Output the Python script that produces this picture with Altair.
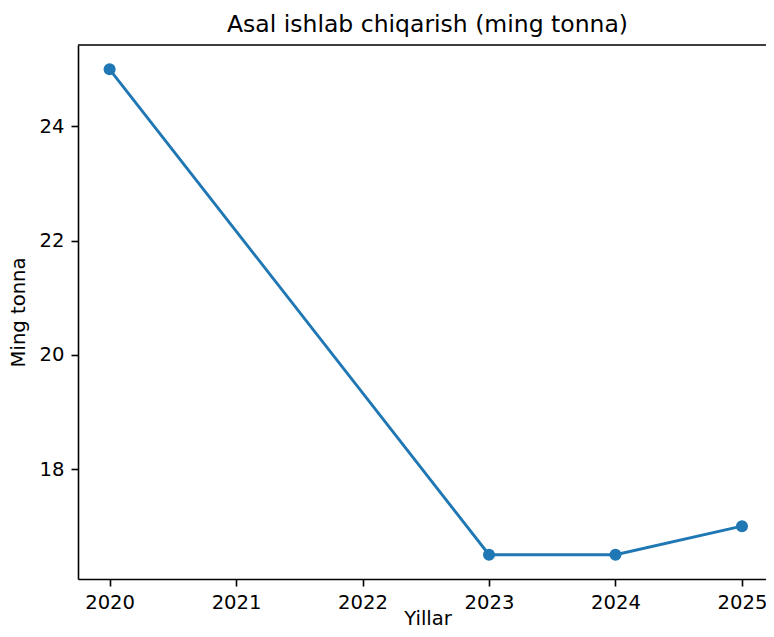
import altair as alt
import pandas as pd

years = [2020, 2023, 2024, 2025]
values = [25.0, 16.5, 16.5, 17.0]
x_ticks = [2020, 2021, 2022, 2023, 2024, 2025]
y_ticks = [18, 20, 22, 24]
title_text = "Asal ishlab chiqarish (ming tonna)"
x_label = "Yillar"
y_label = "Ming tonna"

df = pd.DataFrame({"year": years, "value": values})

FONT = "DejaVu Sans"
BLUE = "#1f77b4"
W, H = 688, 534
FS = 19.6
PAD_L, PAD_T, PAD_B = 70, 37, 50

x_scale = alt.Scale(domain=[2019.75, 2025.19], nice=False, zero=False)
y_scale = alt.Scale(domain=[16.075, 25.425], nice=False, zero=False)

x_axis = alt.Axis(
    values=x_ticks, format="d", title=x_label, grid=False,
    tickSize=7, tickWidth=1.6, tickColor="black",
    domainColor="black", domainWidth=1.6,
    labelFont=FONT, labelFontSize=FS, labelColor="black", labelPadding=7.5,
    labelFlush=False, labelOverlap=False,
    titleFont=FONT, titleFontSize=FS, titleFontWeight="normal", titleColor="black",
    titleX=349.5, titleY=45, titleAlign="center", titleBaseline="alphabetic",
)
y_axis = alt.Axis(
    values=y_ticks, format="d", title=y_label, grid=False,
    tickSize=7, tickWidth=1.6, tickColor="black",
    domainColor="black", domainWidth=1.6,
    labelFont=FONT, labelFontSize=FS, labelColor="black", labelPadding=7,
    labelFlush=False, labelOverlap=False,
    titleFont=FONT, titleFontSize=FS, titleFontWeight="normal", titleColor="black",
    titleX=-54, titleY=H / 2, titleAngle=270, titleAlign="center",
    titleBaseline="alphabetic",
)

chart = (
    alt.Chart(df)
    .mark_line(color=BLUE, strokeWidth=2.9,
               point=alt.OverlayMarkDef(filled=True, size=145, color=BLUE, opacity=1, shape="circle"))
    .encode(
        x=alt.X("year:Q", scale=x_scale, axis=x_axis),
        y=alt.Y("value:Q", scale=y_scale, axis=y_axis),
    )
    .properties(
        width=W,
        height=H,
        autosize=alt.AutoSizeParams(type="none"),
        padding={"left": PAD_L, "top": PAD_T, "right": 0, "bottom": PAD_B},
        title=alt.Title(
            title_text, font=FONT, fontSize=23.5, fontWeight="normal",
            color="black", anchor="middle", frame="group",
            baseline="alphabetic", offset=13, dx=5.5, dy=23,
        ),
    )
    .configure_view(stroke="black", strokeWidth=1.6, strokeDash=[W, 100000])
)

chart.save("out.html", embed_options={"renderer": "svg", "actions": False})
